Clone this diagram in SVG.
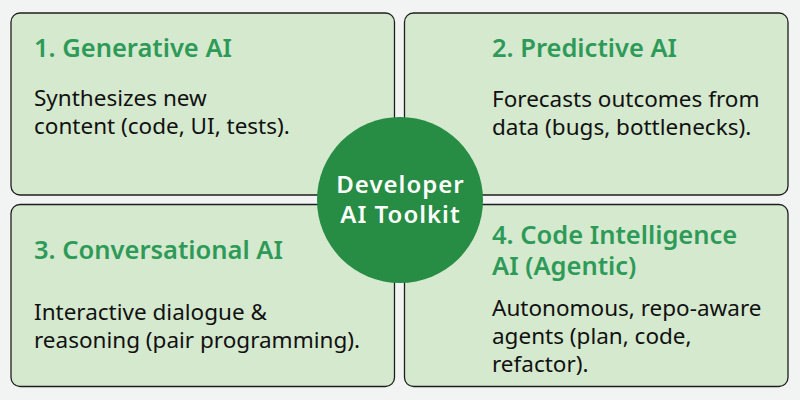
<svg xmlns="http://www.w3.org/2000/svg" width="800" height="400" viewBox="0 0 800 400">
<style>
.box{fill:#d5e9cf;stroke:#1e1e1e;stroke-width:1.3}
.title{font-family:"Noto Sans","Open Sans",sans-serif;font-weight:600;font-size:25.5px;fill:#2e9a58}
.body{font-family:"Noto Sans","Open Sans",sans-serif;font-size:22.5px;fill:#111}
.hub{fill:#278c44}
.hubt{font-family:"Noto Sans","Open Sans",sans-serif;font-weight:600;font-size:24px;letter-spacing:1px;fill:#fff;text-anchor:middle}
</style>
<rect width="800" height="400" fill="#f2f4f3"/>
<g id="connectors"></g>
<g id="node1">
<rect class="box" x="11" y="13" width="383.5" height="182" rx="9"/>
<text class="title" x="34" y="57">1. Generative AI</text>
<text class="body" x="34" y="106">Synthesizes new</text>
<text class="body" x="34" y="134">content (code, UI, tests).</text>
</g>
<g id="node2">
<rect class="box" x="404.5" y="13" width="383.5" height="182" rx="9"/>
<text class="title" x="492" y="57">2. Predictive AI</text>
<text class="body" x="492" y="107">Forecasts outcomes from</text>
<text class="body" x="492" y="135">data (bugs, bottlenecks).</text>
</g>
<g id="node3">
<rect class="box" x="11" y="204.5" width="383.5" height="182" rx="9"/>
<text class="title" x="34" y="258.5">3. Conversational AI</text>
<text class="body" x="34" y="320">Interactive dialogue &amp;</text>
<text class="body" x="34" y="348">reasoning (pair programming).</text>
</g>
<g id="node4">
<rect class="box" x="404.5" y="204.5" width="383.5" height="182" rx="9"/>
<text class="title" x="492" y="243.5">4. Code Intelligence</text>
<text class="title" x="492" y="275">AI (Agentic)</text>
<text class="body" x="492" y="316">Autonomous, repo-aware</text>
<text class="body" x="492" y="344">agents (plan, code,</text>
<text class="body" x="492" y="372">refactor).</text>
</g>
<g id="hub">
<circle class="hub" cx="400" cy="200" r="83"/>
<text class="hubt" x="400.5" y="193">Developer</text>
<text class="hubt" x="400.5" y="223">AI Toolkit</text>
</g>
</svg>
